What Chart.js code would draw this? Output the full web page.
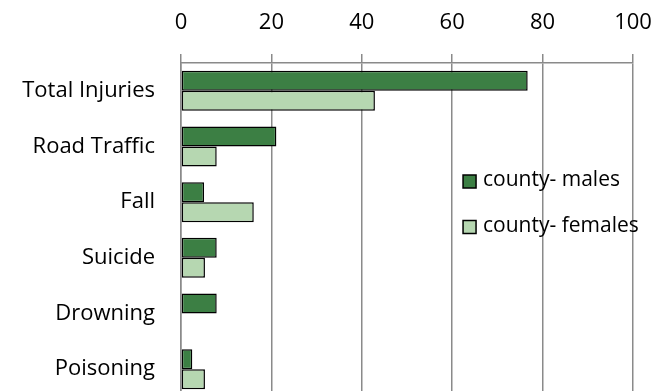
<!DOCTYPE html>
<html>
<head>
<meta charset="utf-8">
<script src="https://cdn.jsdelivr.net/npm/chart.js@4"></script>
<style>
  html, body { margin: 0; padding: 0; background: #fff; overflow: hidden; }
  #wrap { position: relative; width: 666px; height: 397px; }
</style>
</head>
<body>
<div id="wrap"><canvas id="myChart"></canvas></div>
<script>
const categories = ["Total Injuries", "Road Traffic", "Fall", "Suicide", "Drowning", "Poisoning"];
const males = [76.7, 21.1, 5.1, 7.9, 7.9, 2.5];
const females = [42.9, 7.9, 16.1, 5.3, null, 5.3];
const seriesNames = ["county- males", "county- females"];
const xTicks = [0, 20, 40, 60, 80, 100];

const fontFamily = "'Open Sans', Lato, sans-serif";
const fontSize = 22;
const gridColor = "#8a8a8a";

// legend sits inside the plot, right of centre
const insideLegend = {
  id: "insideLegend",
  afterDraw(chart) {
    const { ctx, chartArea } = chart;
    const w = chartArea.right - chartArea.left;
    const x = chartArea.left + w * 0.624;
    let y = chartArea.top + 118.5;
    ctx.save();
    ctx.font = "21px " + fontFamily;
    ctx.textBaseline = "middle";
    chart.data.datasets.forEach((ds) => {
      ctx.fillStyle = ds.backgroundColor;
      ctx.fillRect(x, y - 6.5, 13, 13);
      ctx.lineWidth = 1.5;
      ctx.strokeStyle = "#000";
      ctx.strokeRect(x, y - 6.5, 13, 13);
      ctx.fillStyle = "#000";
      ctx.fillText(ds.label, x + 20, y - 1);
      y += 45.5;
    });
    ctx.restore();
  },
};

const ctx = document.getElementById("myChart");
const config = {
  type: "bar",
  data: {
    labels: categories,
    datasets: [
      {
        label: seriesNames[0],
        data: males,
        backgroundColor: "#3c7f44",
        borderColor: "#000",
        borderWidth: 1.5,
        borderSkipped: false,
      },
      {
        label: seriesNames[1],
        data: females,
        backgroundColor: "#b6d7b1",
        borderColor: "#000",
        borderWidth: 1.5,
        borderSkipped: false,
      },
    ],
  },
  options: {
    indexAxis: "y",
    responsive: true,
    maintainAspectRatio: false,
    animation: false,
    layout: { padding: { left: 0, right: 33, top: 0, bottom: 0 } },
    datasets: {
      bar: { categoryPercentage: 0.72, barPercentage: 1 },
    },
    plugins: {
      legend: { display: false },
      tooltip: { enabled: false },
    },
    scales: {
      x: {
        position: "top",
        min: 0,
        max: 100,
        afterBuildTicks: (scale) => {
          scale.ticks = xTicks.map((v) => ({ value: v }));
        },
        afterFit: (scale) => {
          scale.height = 63;
          scale.paddingLeft = 0;
          scale.paddingRight = 0;
        },
        ticks: {
          color: "#000",
          font: { family: fontFamily, size: fontSize },
          padding: 18,
          maxRotation: 0,
        },
        grid: { color: gridColor, lineWidth: 1.5, tickLength: 9 },
        border: { color: gridColor, width: 1.5 },
      },
      y: {
        afterFit: (scale) => {
          scale.width = 181;
          scale.paddingTop = 0;
          scale.paddingBottom = 0;
        },
        ticks: {
          color: "#000",
          font: { family: fontFamily, size: fontSize },
          padding: 26,
        },
        grid: { display: false, drawTicks: false },
        border: { color: gridColor, width: 1.5 },
      },
    },
  },
  plugins: [insideLegend],
};
const myChart = new Chart(ctx, config);
</script>
</body>
</html>
